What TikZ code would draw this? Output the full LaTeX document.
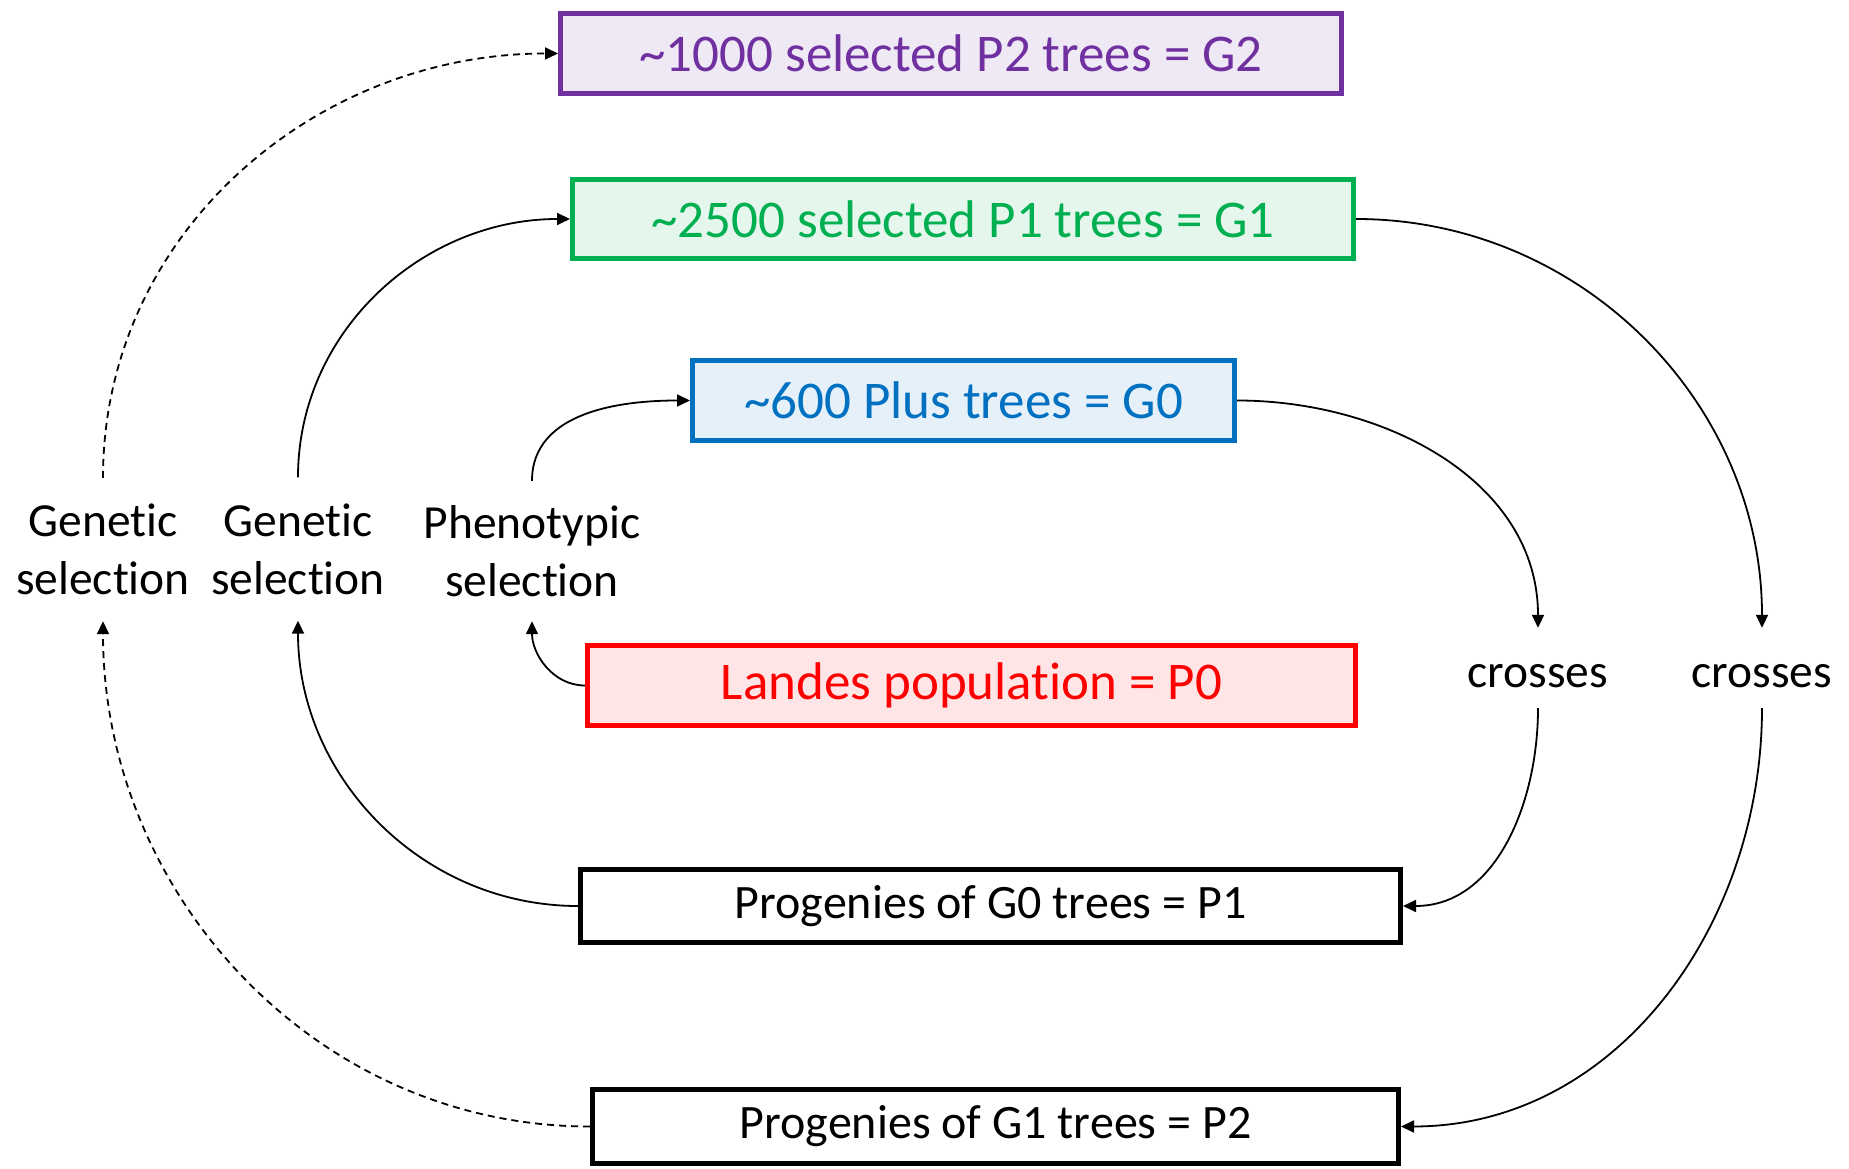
\documentclass[tikz,border=0pt]{standalone}
\usepackage{fontspec}
\setmainfont{Carlito}[Ligatures={NoCommon,NoRare,NoContextual}]
\usetikzlibrary{arrows.meta}
\newcommand{\tiNL}{t\kern0pt i}
\definecolor{cpurple}{HTML}{7030A0}
\definecolor{fpurple}{HTML}{EFE8F5}
\definecolor{cgreen}{HTML}{00B050}
\definecolor{fgreen}{HTML}{E5F6EC}
\definecolor{cblue}{HTML}{0070C0}
\definecolor{fblue}{HTML}{E5F0F9}
\definecolor{cred}{HTML}{FF0000}
\definecolor{fred}{HTML}{FFE5E5}
\tikzset{
  boxnode/.style={draw, line width=5pt, inner sep=0pt, font=\fontsize{53}{64}\selectfont},
  blackbox/.style={boxnode, draw=black, fill=white, font=\fontsize{48}{58}\selectfont},
  labnode/.style={align=center, inner sep=0pt, font=\fontsize{47.5}{58}\selectfont},
  conn/.style={line width=1.8pt, -{Triangle[length=13pt,width=12pt]}},
  dconn/.style={conn, dash pattern=on 7pt off 5pt},
}
\begin{document}
\begin{tikzpicture}[x=1pt,y=1pt]
\useasboundingbox (0,0) rectangle (1849,1168);
% boxes
\node[boxnode, draw=cpurple, fill=fpurple, text=cpurple, minimum width=781, minimum height=80] (G2) at (951,1114.5) {\textasciitilde1000 selected P2 trees = G2};
\node[boxnode, draw=cgreen, fill=fgreen, text=cgreen, minimum width=781, minimum height=79] (G1) at (963,949) {\textasciitilde2500 selected P1 trees = G1};
\node[boxnode, draw=cblue, fill=fblue, text=cblue, minimum width=542, minimum height=80] (G0) at (963.5,767.5) {\textasciitilde600 Plus trees = G0};
\node[boxnode, draw=cred, fill=fred, text=cred, minimum width=768, minimum height=80] (P0) at (971.5,482.5) {Landes popula\tiNL on = P0};
\node[blackbox, minimum width=820, minimum height=73] (P1) at (990.5,262) {Progenies of G0 trees = P1};
\node[blackbox, minimum width=806, minimum height=74] (P2) at (995.5,41.5) {Progenies of G1 trees = P2};
% labels
\node[labnode, minimum height=143] (gsA) at (103,618.5) {Gene\tiNL c\\selec\tiNL on};
\node[labnode, minimum height=143] (gsB) at (298,619) {Gene\tiNL c\\selec\tiNL on};
\node[labnode, minimum height=140] (ps) at (532,617) {Phenotypic\\selec\tiNL on};
\node[labnode, minimum height=80] (crA) at (1538,492) {crosses};
\node[labnode, minimum height=80] (crB) at (1762,492) {crosses};
% connectors
\draw[dconn] (gsA.north) to[out=90,in=180] (G2.west);
\draw[dconn] (P2.west) to[out=180,in=-90] (gsA.south);
\draw[conn] (gsB.north) to[out=90,in=180] (G1.west);
\draw[conn] (P1.west) to[out=180,in=-90] (gsB.south);
\draw[conn] (ps.north) to[out=90,in=180] (G0.west);
\draw[conn] (P0.west) to[out=180,in=-90] (ps.south);
\draw[conn] (G0.east) to[out=0,in=90] ([yshift=8pt]crA.north);
\draw[conn] ([yshift=8pt]crA.south) to[out=-90,in=0] (P1.east);
\draw[conn] (G1.east) to[out=0,in=90] ([yshift=8pt]crB.north);
\draw[conn] ([yshift=8pt]crB.south) to[out=-90,in=0] (P2.east);
\end{tikzpicture}
\end{document}
